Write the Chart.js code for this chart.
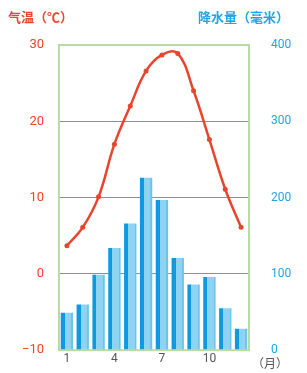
<!DOCTYPE html>
<html>
<head>
<meta charset="utf-8">
<script src="https://cdn.jsdelivr.net/npm/chart.js@4"></script>
<style>
html,body{margin:0;padding:0;background:#fff;}
#wrap{width:307px;height:373px;position:relative;}
</style>
</head>
<body>
<div id="wrap"><canvas id="c" width="307" height="373"></canvas></div>
<script>
const months = ["1","2","3","4","5","6","7","8","9","10","11","12"];
const shownMonthLabels = ["1","4","7","10"];
const temperature = [3.7, 6.1, 10.1, 17.0, 22.0, 26.6, 28.7, 28.9, 24.0, 17.6, 11.1, 6.1];
const precipitation = [49, 60, 99, 134, 166, 226, 197, 121, 86, 96, 55, 28];
const tempTicks = [-10, 0, 10, 20, 30];
const precipTicks = [0, 100, 200, 300, 400];
const leftTitle = "气温（℃）";
const rightTitle = "降水量（毫米）";
const monthUnit = "（月）";

const RED = "#e8452c";
const BLUE = "#22a4e2";
const CJK = "'Noto Sans CJK SC', 'Noto Sans', sans-serif";

const barPct = 0.78;

function barFill(c) {
  const chart = c.chart;
  const area = chart.chartArea;
  const xs = chart.scales.x;
  if (!area || !xs || c.dataIndex === undefined) return BLUE;
  const cw = area.width / months.length;
  const w = cw * barPct;
  const cx = xs.getPixelForValue(c.dataIndex);
  const x0 = cx - w / 2, x1 = cx + w / 2;
  const g = chart.ctx.createLinearGradient(x0, 0, x1, 0);
  g.addColorStop(0, "#0e9ae0");
  g.addColorStop(0.32, "#0e9ae0");
  g.addColorStop(0.33, "#8fd3f3");
  g.addColorStop(0.85, "#8fd3f3");
  g.addColorStop(0.86, "#6cc3ee");
  g.addColorStop(1, "#6cc3ee");
  return g;
}

const frameAndTitles = {
  id: 'frameAndTitles',
  afterDraw(chart) {
    const {ctx, chartArea: a} = chart;
    ctx.save();
    ctx.strokeStyle = "#b9dca6";
    ctx.lineWidth = 2;
    ctx.strokeRect(a.left, a.top, a.right - a.left, a.bottom - a.top);
    ctx.font = "bold 13px " + CJK;
    ctx.textBaseline = "middle";
    ctx.fillStyle = RED;
    ctx.textAlign = "left";
    ctx.fillText(leftTitle, 8, 17);
    ctx.fillStyle = BLUE;
    ctx.fillText(rightTitle, 198, 17);
    ctx.fillStyle = "#555";
    ctx.font = "12px " + CJK;
    ctx.fillText(monthUnit, 252, 363);
    ctx.restore();
  }
};

new Chart(document.getElementById('c'), {
  data: {
    labels: months,
    datasets: [
      {
        type: 'line',
        data: temperature,
        yAxisID: 'y',
        borderColor: RED,
        backgroundColor: RED,
        borderWidth: 2.5,
        pointRadius: 2.5,
        pointBorderWidth: 0,
        tension: 0.4,
        order: 0
      },
      {
        type: 'bar',
        data: precipitation,
        yAxisID: 'y1',
        backgroundColor: barFill,
        borderWidth: 0,
        barPercentage: barPct,
        categoryPercentage: 1,
        order: 1
      }
    ]
  },
  options: {
    responsive: false,
    animation: false,
    layout: { padding: { top: 45, bottom: 4, left: 0, right: 0 } },
    plugins: { legend: { display: false }, tooltip: { enabled: false } },
    scales: {
      x: {
        offset: true,
        grid: { display: false, drawTicks: false, tickLength: 0 },
        border: { display: false },
        ticks: {
          color: "#555",
          font: { size: 12, family: "Roboto, sans-serif" },
          padding: 2,
          maxRotation: 0,
          autoSkip: false,
          callback: (v, i) => shownMonthLabels.includes(months[i]) ? months[i] : ""
        }
      },
      y: {
        position: 'left',
        min: -10, max: 30,
        afterBuildTicks: s => { s.ticks = tempTicks.map(v => ({value: v})); },
        grid: {
          color: c => (c.tick && (c.tick.value === 30 || c.tick.value === -10)) ? 'rgba(0,0,0,0)' : '#8f8f8f',
          lineWidth: 1,
          drawTicks: false
        },
        border: { display: false },
        ticks: {
          color: RED,
          font: { size: 13, family: "Roboto, sans-serif" },
          padding: 15,
          callback: v => v < 0 ? "−" + Math.abs(v) : String(v)
        },
        afterFit: s => { s.width = 59; }
      },
      y1: {
        position: 'right',
        min: 0, max: 400,
        afterBuildTicks: s => { s.ticks = precipTicks.map(v => ({value: v})); },
        grid: { display: false },
        border: { display: false },
        ticks: {
          color: BLUE,
          font: { size: 12, family: "Roboto, sans-serif" },
          padding: 14
        },
        afterFit: s => { s.width = 58; }
      }
    }
  },
  plugins: [frameAndTitles]
});
</script>
</body>
</html>
